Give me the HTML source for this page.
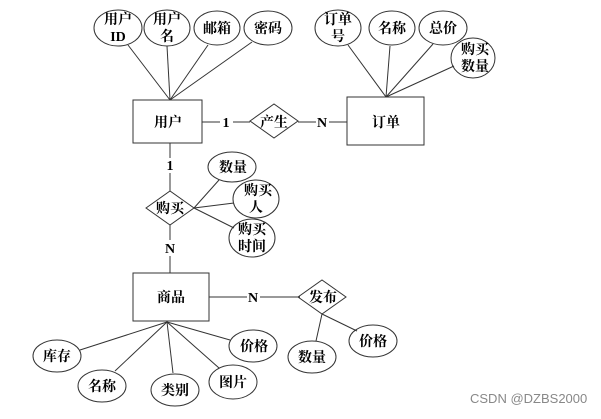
<!DOCTYPE html>
<html><head><meta charset="utf-8"><style>
body{margin:0;background:#fff}
svg text{font-family:"Liberation Serif","Noto Serif CJK SC",serif;font-weight:bold;font-size:14px;fill:#000}
</style></head><body>
<svg width="601" height="414" viewBox="0 0 601 414" xmlns="http://www.w3.org/2000/svg">
<g stroke="#333" stroke-width="1" fill="none">
<!-- user attrs -->
<line x1="128" y1="45" x2="170" y2="100"/><line x1="167" y1="46" x2="170" y2="100"/>
<line x1="208" y1="45" x2="170" y2="100"/><line x1="252" y1="42" x2="170" y2="100"/>
<!-- order attrs -->
<line x1="348" y1="45" x2="386" y2="97"/><line x1="390" y1="46" x2="386" y2="97"/>
<line x1="433" y1="44" x2="386" y2="97"/><line x1="454" y1="66" x2="386" y2="97"/>
<line x1="202" y1="122" x2="220" y2="122"/><line x1="233" y1="122" x2="250" y2="122"/>
<line x1="298" y1="122" x2="316" y2="122"/><line x1="329" y1="122" x2="347" y2="122"/>
<line x1="170" y1="143" x2="170" y2="158"/><line x1="170" y1="173" x2="170" y2="191"/>
<line x1="170" y1="225" x2="170" y2="240"/><line x1="170" y1="256" x2="170" y2="273"/>
<line x1="194" y1="208" x2="219" y2="180"/><line x1="194" y1="208" x2="234" y2="203"/>
<line x1="194" y1="208" x2="234" y2="228"/>
<!-- product -->
<line x1="209" y1="297" x2="247" y2="297"/><line x1="260" y1="297" x2="300" y2="297"/>
<line x1="167" y1="322" x2="80" y2="350"/><line x1="167" y1="322" x2="115" y2="371"/>
<line x1="167" y1="322" x2="173" y2="373"/><line x1="167" y1="322" x2="219" y2="368"/>
<line x1="167" y1="322" x2="230" y2="340"/>
<line x1="322" y1="314" x2="316" y2="341"/><line x1="322" y1="314" x2="357" y2="331"/>
<rect x="133" y="100" width="69" height="43"/>
<rect x="347" y="97" width="77" height="48"/>
<rect x="133" y="273" width="76" height="48"/>
<polygon points="250,121 274,104 298,121 274,138"/>
<polygon points="146,208 170,191 194,208 170,225"/>
<polygon points="298,297 322,280 346,297 322,314"/>
<ellipse cx="118" cy="28" rx="24" ry="18"/><ellipse cx="167" cy="28" rx="23" ry="18"/>
<ellipse cx="217" cy="28" rx="23" ry="17"/><ellipse cx="268" cy="28" rx="24" ry="17"/>
<ellipse cx="338" cy="28" rx="23" ry="18"/><ellipse cx="392" cy="28" rx="23" ry="17"/>
<ellipse cx="443" cy="28" rx="24" ry="17"/><ellipse cx="473" cy="58" rx="22" ry="20"/>
<ellipse cx="232" cy="167" rx="24" ry="15"/><ellipse cx="256" cy="199" rx="23" ry="19"/>
<ellipse cx="252" cy="238" rx="23" ry="19"/>
<ellipse cx="57" cy="356" rx="24" ry="16"/><ellipse cx="102" cy="386" rx="24" ry="16"/>
<ellipse cx="175" cy="390" rx="24" ry="16"/><ellipse cx="233" cy="382" rx="24" ry="17"/>
<ellipse cx="253" cy="346" rx="24" ry="16"/><ellipse cx="312" cy="357" rx="24" ry="16"/>
<ellipse cx="373" cy="341" rx="24" ry="16"/>
</g>
<g text-anchor="middle">
<text x="118" y="24">用户</text><text x="118" y="41">ID</text>
<text x="167" y="24">用户</text><text x="167" y="41">名</text>
<text x="217" y="33">邮箱</text><text x="268" y="33">密码</text>
<text x="338" y="24">订单</text><text x="338" y="41">号</text>
<text x="392" y="33">名称</text><text x="443" y="33">总价</text>
<text x="475" y="54">购买</text><text x="475" y="71">数量</text>
<text x="168" y="127">用户</text><text x="386" y="127">订单</text>
<text x="226" y="127">1</text><text x="322" y="127">N</text>
<text x="274" y="127">产生</text>
<text x="170" y="170">1</text><text x="170" y="213">购买</text><text x="170" y="253">N</text>
<text x="233" y="172">数量</text>
<text x="258" y="195">购买</text><text x="256" y="212">人</text>
<text x="252" y="234">购买</text><text x="252" y="251">时间</text>
<text x="171" y="302">商品</text><text x="253" y="302">N</text><text x="323" y="302">发布</text>
<text x="57" y="361">库存</text><text x="102" y="391">名称</text><text x="175" y="395">类别</text>
<text x="233" y="387">图片</text><text x="254" y="351">价格</text>
<text x="312" y="362">数量</text><text x="373" y="346">价格</text>
</g>
<text x="470" y="403" style="font-family:'Liberation Sans',sans-serif;font-weight:normal;font-size:13px;fill:#888">CSDN @DZBS2000</text>
</svg>
</body></html>
